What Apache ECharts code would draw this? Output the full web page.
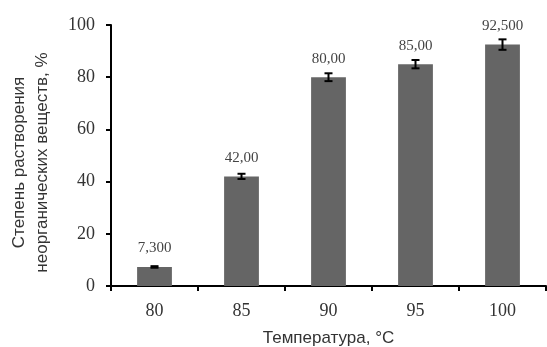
<!DOCTYPE html>
<html><head><meta charset="utf-8">
<script src="https://cdn.jsdelivr.net/npm/echarts@6/dist/echarts.min.js"></script>
<style>html,body{margin:0;padding:0;background:#fff}#c{width:547px;height:347px}</style>
</head><body><div id="c"></div>
<script>
const categories = ['80', '85', '90', '95', '100'];
const values = [7.3, 42, 80, 85, 92.5];
const errors = [0.3, 1.0, 1.5, 1.6, 2.0];
const valueLabels = ['7,300', '42,00', '80,00', '85,00', '92,500'];
const yTicks = [0, 20, 40, 60, 80, 100];

const chart = echarts.init(document.getElementById('c'));
chart.setOption({
  animation: false,
  backgroundColor: '#fff',
  grid: { left: 111, right: 1, top: 25, bottom: 61, containLabel: false, outerBoundsMode: 'none' },
  xAxis: {
    type: 'category', data: categories,
    axisLine: { lineStyle: { color: '#000', width: 2 } },
    axisTick: { show: true, length: 5, lineStyle: { color: '#000', width: 2 } },
    axisLabel: { fontFamily: 'Liberation Serif', fontSize: 18, color: '#333', margin: 16 },
    name: 'Температура, °C', nameLocation: 'middle', nameGap: 44,
    nameTextStyle: { fontFamily: 'Liberation Sans', fontSize: 17, color: '#333' }
  },
  yAxis: {
    type: 'value', min: yTicks[0], max: yTicks[yTicks.length - 1], interval: 20,
    axisLine: { show: true, lineStyle: { color: '#000', width: 2 } },
    axisTick: { show: true, length: 5, lineStyle: { color: '#000', width: 2 } },
    splitLine: { show: false },
    axisLabel: { fontFamily: 'Liberation Serif', fontSize: 18, color: '#333', margin: 16 },
    name: 'Степень растворения\nнеорганических веществ, %', nameLocation: 'middle', nameGap: 57,
    nameTextStyle: { fontFamily: 'Liberation Sans', fontSize: 17, color: '#333', lineHeight: 23, padding: [0, 14, 0, 0] }
  },
  series: [
    {
      type: 'bar', data: values, barWidth: '40%',
      itemStyle: { color: '#656565' },
      label: {
        show: true, position: 'top', distance: 11,
        fontFamily: 'Liberation Serif', fontSize: 15, color: '#444',
        formatter: p => valueLabels[p.dataIndex]
      }
    },
    {
      type: 'custom',
      data: values.map((v, i) => [i, v - errors[i], v + errors[i]]),
      renderItem: function (params, api) {
        const lo = api.coord([api.value(0), api.value(1)]);
        const hi = api.coord([api.value(0), api.value(2)]);
        const x = lo[0], hw = 4;
        const st = { stroke: '#000', lineWidth: 2 };
        return { type: 'group', children: [
          { type: 'line', shape: { x1: x, y1: lo[1], x2: x, y2: hi[1] }, style: st },
          { type: 'line', shape: { x1: x - hw, y1: lo[1], x2: x + hw, y2: lo[1] }, style: st },
          { type: 'line', shape: { x1: x - hw, y1: hi[1], x2: x + hw, y2: hi[1] }, style: st }
        ]};
      },
      z: 5
    }
  ]
});
</script></body></html>
